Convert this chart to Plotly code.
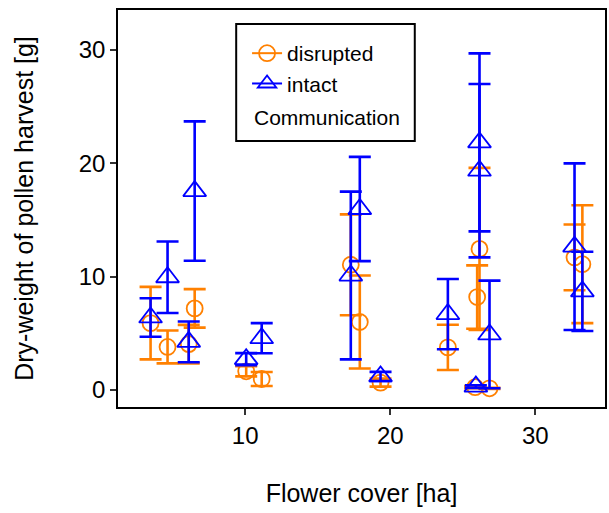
import plotly.graph_objects as go

# ---- data ----
flower_disrupted = [3.48, 4.65, 6.11, 6.52, 10.07, 11.14, 17.28, 17.90, 19.33, 23.97, 26.15, 25.99, 25.85, 26.84, 32.70, 33.24]
pollen_disrupted = [5.9, 3.8, 4.05, 7.2, 1.65, 0.97, 11.05, 6.0, 0.65, 3.76, 12.45, 8.2, 0.25, 0.15, 11.7, 11.1]
err_disrupted = [3.2, 1.45, 1.7, 1.7, 0.45, 0.62, 4.45, 4.1, 0.35, 2.0, 7.15, 2.8, 0.1, 0.05, 2.9, 5.2]

flower_intact = [3.48, 4.65, 6.11, 6.52, 10.07, 11.14, 17.28, 17.90, 19.33, 23.97, 26.15, 26.15, 25.90, 26.84, 32.70, 33.24]
pollen_intact = [6.4, 9.95, 4.25, 17.55, 2.72, 4.57, 10.1, 15.97, 1.2, 6.7, 21.85, 19.35, 0.3, 4.9, 12.65, 8.7]
err_intact = [1.7, 3.15, 1.8, 6.15, 0.53, 1.33, 7.4, 4.6, 0.4, 3.1, 7.85, 7.65, 0.12, 4.75, 7.35, 3.5]

x_ticks = [10, 20, 30]
y_ticks = [0, 10, 20, 30]
group_names = ["disrupted", "intact"]
legend_title = "Communication"
x_title = "Flower cover [ha]"
y_title = "Dry-weight of pollen harvest [g]"

ORANGE = "#FF8000"
BLUE = "#0000FF"
FONT = "Liberation Sans, Arial, sans-serif"

fig = go.Figure()

fig.add_trace(go.Scatter(
    x=flower_disrupted, y=pollen_disrupted, mode="markers", showlegend=False,
    marker=dict(symbol="circle-open", size=16, color=ORANGE, line=dict(width=1.8, color=ORANGE)),
    error_y=dict(type="data", array=err_disrupted, visible=True, color=ORANGE, thickness=2.6, width=11),
))
fig.add_trace(go.Scatter(
    x=flower_intact, y=pollen_intact, mode="markers", showlegend=False,
    marker=dict(symbol="triangle-up-open", size=20, color=BLUE, line=dict(width=1.8, color=BLUE)),
    error_y=dict(type="data", array=err_intact, visible=True, color=BLUE, thickness=2.6, width=11),
))

# legend-only entries
fig.add_trace(go.Scatter(
    x=[None], y=[None], mode="lines+markers", name=group_names[0],
    line=dict(color=ORANGE, width=2),
    marker=dict(symbol="circle-open", size=16, color=ORANGE, line=dict(width=1.8, color=ORANGE)),
))
fig.add_trace(go.Scatter(
    x=[None], y=[None], mode="lines+markers", name=group_names[1],
    line=dict(color=BLUE, width=2),
    marker=dict(symbol="triangle-up-open", size=16, color=BLUE, line=dict(width=1.8, color=BLUE)),
))

fig.update_layout(
    width=609, height=513,
    margin=dict(l=118, r=2, t=10, b=106),
    paper_bgcolor="white", plot_bgcolor="white",
    font=dict(family=FONT, color="black"),
    showlegend=True,
    legend=dict(
        x=0.265, y=0.942, xanchor="left", yanchor="top",
        bgcolor="rgba(0,0,0,0)", borderwidth=0,
        font=dict(size=21, family=FONT, color="black"),
    ),
    xaxis=dict(
        range=[1.235, 34.8], tickvals=x_ticks, ticktext=[str(t) for t in x_ticks],
        showgrid=False, zeroline=False,
        showline=True, linecolor="black", linewidth=1.6, mirror=True,
        ticks="outside", ticklen=6, tickwidth=2, tickcolor="#333333",
        tickfont=dict(size=24, family=FONT, color="black"),
        title=dict(text=x_title, font=dict(size=25, family=FONT, color="black"), standoff=37),
    ),
    yaxis=dict(
        range=[-1.5, 33.53], tickvals=y_ticks, ticktext=[str(t) for t in y_ticks],
        showgrid=False, zeroline=False,
        showline=True, linecolor="black", linewidth=1.6, mirror=True,
        ticks="outside", ticklen=6, tickwidth=2, tickcolor="#333333",
        tickfont=dict(size=24, family=FONT, color="black"),
        title=dict(text=y_title, font=dict(size=25, family=FONT, color="black"), standoff=38),
    ),
    shapes=[dict(
        type="rect", xref="paper", yref="paper",
        x0=0.2427, x1=0.6094, y0=0.670, y1=0.9647,
        line=dict(color="black", width=2), fillcolor="rgba(0,0,0,0)", layer="above",
    )],
    annotations=[dict(
        text=legend_title, xref="paper", yref="paper", x=0.2755, y=0.728,
        xanchor="left", yanchor="middle", showarrow=False,
        font=dict(size=21, family=FONT, color="black"),
    )],
)

fig.write_html("out.html")
